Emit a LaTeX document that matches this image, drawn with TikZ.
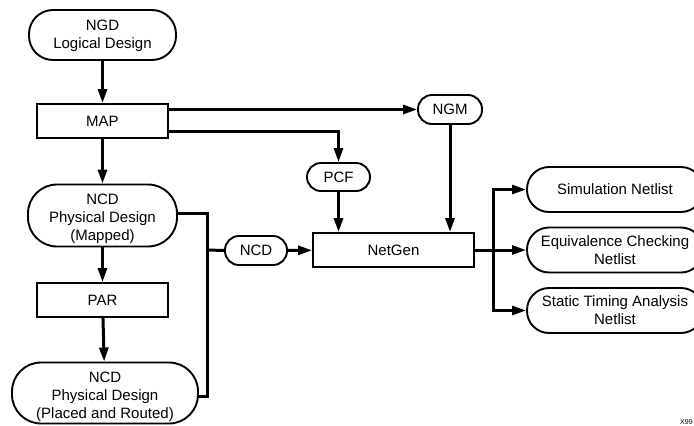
\documentclass[tikz,border=0pt]{standalone}
\usepackage{fontspec}
\setmainfont{Liberation Sans}
\usetikzlibrary{arrows.meta}
\newcommand{\lowered}[2]{\raisebox{-#1}[\height][\depth]{\begin{tabular}{@{}c@{}}#2\end{tabular}}}
\begin{document}
\begin{tikzpicture}[x=1pt,y=-1pt,
  txt/.style={font=\fontsize{15}{18}\selectfont, align=center, inner sep=0pt},
  box/.style={txt, draw, line width=1.9pt},
  pill/.style={txt, draw, line width=1.9pt, rounded corners=#1},
  conn/.style={line width=3pt},
  arr/.style={conn, -{Triangle[length=14pt,width=9pt]}}
]
\useasboundingbox (0,0) rectangle (694,426);

\node[pill=24pt, minimum width=147pt, minimum height=50pt] (ngd) at (102.5,35) {\lowered{1pt}{NGD\\Logical Design}};
\node[box, minimum width=131pt, minimum height=34pt] (map) at (102.5,121) {MAP};
\node[pill=29pt, minimum width=149pt, minimum height=62pt] (ncdm) at (102.5,215.5) {\lowered{3pt}{NCD\\Physical Design\\(Mapped)}};
\node[box, minimum width=131pt, minimum height=34pt] (par) at (102.5,300) {PAR};
\node[pill=29pt, minimum width=186pt, minimum height=61pt] (ncdp) at (105,393) {\lowered{4pt}{NCD\\Physical Design\\(Placed and Routed)}};

\node[pill=14pt, minimum width=62pt, minimum height=29pt] (ncd) at (256,250.5) {NCD};
\node[box, minimum width=161pt, minimum height=34pt] (netgen) at (393.5,250) {NetGen};
\node[pill=14pt, minimum width=63pt, minimum height=28pt] (pcf) at (338.5,177) {PCF};
\node[pill=14pt, minimum width=64pt, minimum height=29pt] (ngm) at (450,109.5) {NGM};

\node[pill=22pt, minimum width=176pt, minimum height=45pt] (sim) at (615,189.5) {Simulation Netlist};
\node[pill=22pt, minimum width=176pt, minimum height=45pt] (eq) at (615,250) {Equivalence Checking\\Netlist};
\node[pill=22pt, minimum width=176pt, minimum height=45pt] (sta) at (615,310.5) {Static Timing Analysis\\Netlist};

\node[anchor=base west, inner sep=0pt, font=\fontsize{7}{8}\selectfont] (xlabel) at (680,424) {X99};

\coordinate (j) at (207,250);
\coordinate (k) at (493,250);

\draw[arr] (ngd) -- (map);
\draw[arr] (map) -- (ncdm);
\draw[arr] (ncdm) -- (par);
\draw[arr] (par) -- (ncdp);

\draw[arr] (map.east |- ngm.west) -- (ngm.west);
\draw[arr] ([yshift=7pt]map.south east) -| (pcf.north);
\draw[arr] (pcf) -- (pcf |- netgen.north);
\draw[arr] (ngm) -- (ngm |- netgen.north);

\draw[conn] ([yshift=2pt]ncdm.east) -| (j);
\draw[conn] ([yshift=-3pt]ncdp.east) -| (j);
\draw[conn] (j) -- (ncd.west);
\draw[arr] (ncd) -- (netgen);

\draw[conn] (netgen) -- (k);
\draw[arr] (k) |- (sim);
\draw[arr] (k) |- (sta);
\draw[arr] (k) -- (eq);
\end{tikzpicture}
\end{document}
